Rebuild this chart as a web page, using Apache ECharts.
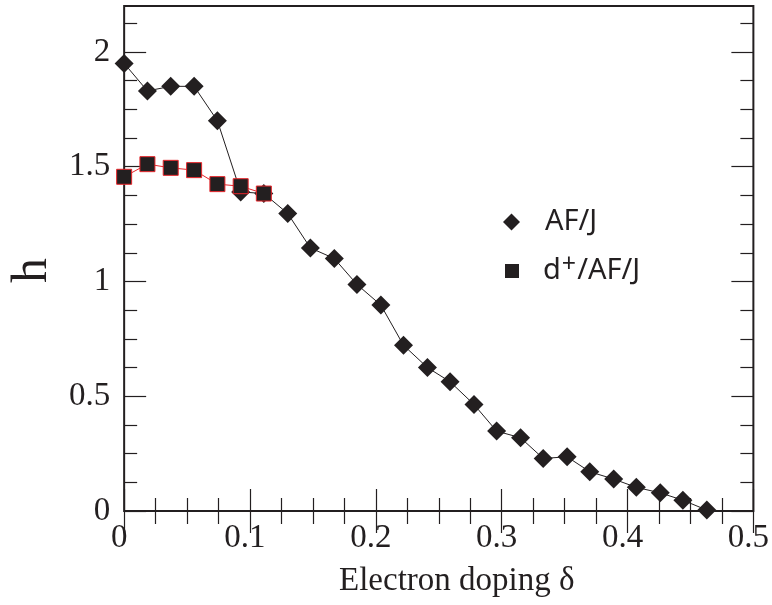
<!DOCTYPE html>
<html>
<head>
<meta charset="utf-8">
<script src="https://cdn.jsdelivr.net/npm/echarts@6/dist/echarts.min.js"></script>
<style>
  html, body { margin: 0; padding: 0; background: #ffffff; }
  #chart { width: 772px; height: 605px; }
</style>
</head>
<body>
<div id="chart"></div>
<script>
// Electron doping values and the field h for each ordering
const deltaAF = [0, 0.0185, 0.037, 0.0556, 0.0741, 0.0926, 0.111, 0.13, 0.148, 0.167, 0.185, 0.204, 0.222,
                 0.241, 0.259, 0.278, 0.296, 0.315, 0.333, 0.352, 0.37, 0.389, 0.407, 0.426, 0.444, 0.463];
const hAF = [1.95, 1.83, 1.85, 1.85, 1.70, 1.39, 1.383, 1.296, 1.146, 1.100, 0.987, 0.897, 0.722,
             0.625, 0.563, 0.464, 0.348, 0.319, 0.229, 0.236, 0.171, 0.139, 0.103, 0.079, 0.047, 0.004];
const deltaDAF = [0, 0.0185, 0.037, 0.0556, 0.0741, 0.0926, 0.111];
const hDAF = [1.456, 1.511, 1.495, 1.485, 1.424, 1.415, 1.383];

// Axis ticks
const xTicks = [0, 0.1, 0.2, 0.3, 0.4, 0.5];
const yTicks = [0, 0.5, 1, 1.5, 2];
const yMinorTicks = [0.125, 0.25, 0.375, 0.625, 0.75, 0.875, 1.125, 1.25, 1.375,
                     1.625, 1.75, 1.875, 2.125];

const nameAF = 'AF/J';
const nameDAF = 'd+/AF/J';

const ink = '#231f20';
const red = '#e8262b';
const serif = '"Liberation Serif", "Times New Roman", serif';
const sans = '"Noto Sans", "Open Sans", sans-serif';

const pairs = (xs, ys) => xs.map((x, i) => [x, ys[i]]);

const tickStyle = { color: ink, width: 1.2 };

function yAxisDef(position, values, length, withLabels) {
  return {
    type: 'value', position: position, min: 0, max: 2.2,
    axisLine: { show: false },
    splitLine: { show: false },
    axisTick: { show: true, inside: true, length: length, customValues: values, lineStyle: tickStyle },
    axisLabel: withLabels ? {
      show: true, customValues: yTicks, fontFamily: serif, fontSize: 33, color: ink,
      margin: 14, padding: [17, 0, 0, 0]
    } : { show: false }
  };
}

function xAxisDef(position, withLabels) {
  return {
    type: 'value', position: position, min: 0, max: 0.5, interval: 0.1,
    axisLine: { show: false },
    splitLine: { show: false },
    axisTick: { show: true, inside: true, length: 22, customValues: xTicks, lineStyle: tickStyle },
    minorTick: { show: true, splitNumber: 4, length: 13, lineStyle: tickStyle },
    axisLabel: withLabels ? {
      show: true, customValues: xTicks, fontFamily: serif, fontSize: 33, color: ink,
      margin: 11, padding: [0, 10, 0, 0]
    } : { show: false }
  };
}

const chart = echarts.init(document.getElementById('chart'), null, { renderer: 'canvas' });

const xBottom = xAxisDef('bottom', true);
xBottom.name = 'Electron doping \u03b4';
xBottom.nameLocation = 'middle';
xBottom.nameGap = 54;
xBottom.nameTextStyle = { fontFamily: serif, fontSize: 33, color: ink, padding: [0, 0, 0, 36] };

const yLeft = yAxisDef('left', yTicks, 22, true);
yLeft.name = 'h';
yLeft.nameLocation = 'middle';
yLeft.nameRotate = 90;
yLeft.nameGap = 64;
yLeft.nameTextStyle = { fontFamily: serif, fontSize: 50, color: ink, padding: [0, 24, 0, 0] };

const legendText = {
  fontFamily: sans, fontSize: 29, color: ink, lineHeight: 30,
  rich: {
    sup: { fontFamily: sans, fontSize: 25, color: ink, verticalAlign: 'bottom', padding: [0, 1, 9, 1], lineHeight: 30 }
  }
};
const legendFormatter = n => n === nameDAF ? 'd{sup|+}/AF/J' : n;

const option = {
  backgroundColor: '#ffffff',
  animation: false,
  grid: {
    left: 116, right: 17, top: 6, bottom: 94,
    show: true, borderColor: ink, borderWidth: 2, backgroundColor: 'transparent'
  },
  xAxis: [
    xBottom,
    xAxisDef('top', false)
  ],
  yAxis: [
    yLeft,
    yAxisDef('left', yMinorTicks, 13, false),
    yAxisDef('right', yTicks, 22, false),
    yAxisDef('right', yMinorTicks, 13, false)
  ],
  legend: [
    {
      data: [{ name: nameAF, icon: 'diamond' }],
      orient: 'vertical', left: 503, top: 207, padding: 0,
      itemWidth: 17, itemHeight: 17,
      formatter: legendFormatter,
      textStyle: Object.assign({ padding: [0, 0, 0, 20] }, legendText)
    },
    {
      data: [{ name: nameDAF, icon: 'rect', itemStyle: { borderWidth: 0 } }],
      orient: 'vertical', left: 505, top: 252, padding: 0,
      itemWidth: 14, itemHeight: 14,
      formatter: legendFormatter,
      textStyle: Object.assign({ padding: [0, 0, 0, 19] }, legendText)
    }
  ],
  series: [
    {
      name: nameAF, type: 'line', xAxisIndex: 0, yAxisIndex: 0,
      data: pairs(deltaAF, hAF),
      symbol: 'diamond', symbolSize: 19,
      lineStyle: { color: ink, width: 1 },
      itemStyle: { color: ink },
      z: 2
    },
    {
      name: nameDAF, type: 'line', xAxisIndex: 0, yAxisIndex: 0,
      data: pairs(deltaDAF, hDAF),
      symbol: 'rect', symbolSize: 15,
      lineStyle: { color: red, width: 1 },
      itemStyle: { color: ink, borderColor: red, borderWidth: 1 },
      z: 3
    }
  ]
};

chart.setOption(option);
</script>
</body>
</html>
